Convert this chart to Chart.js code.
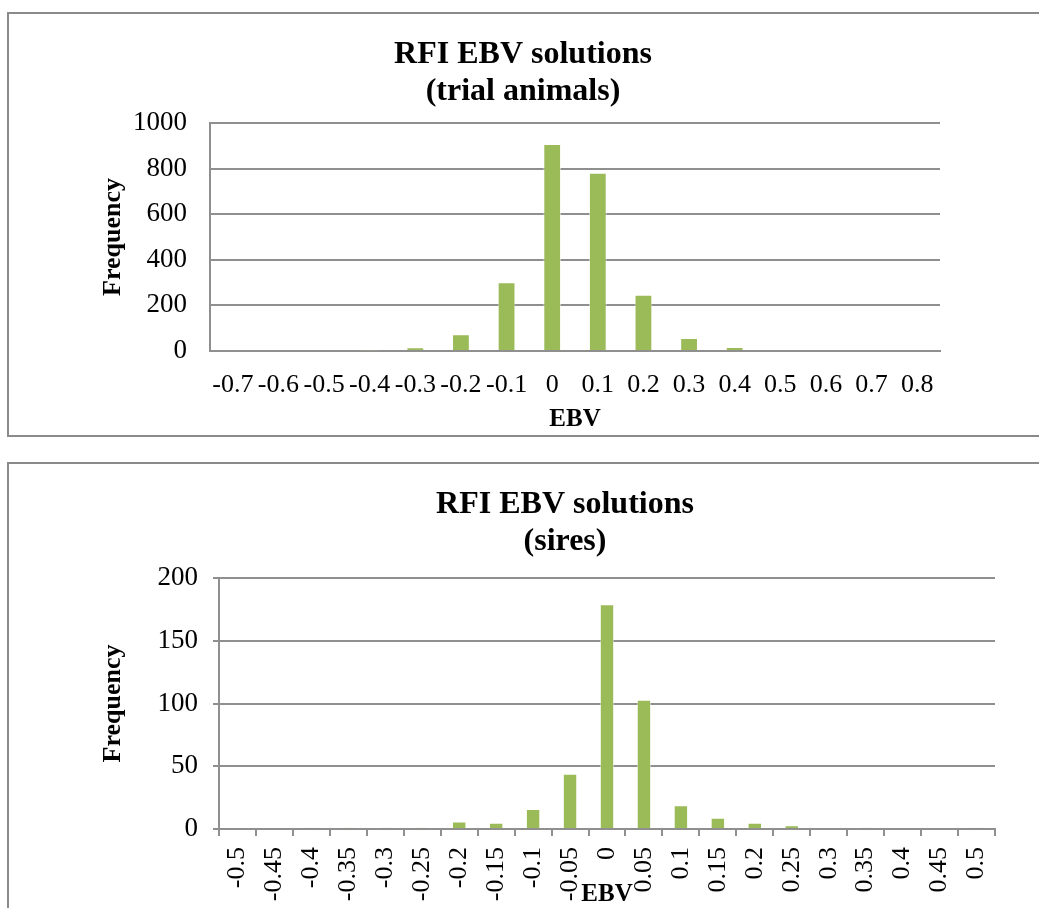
<!DOCTYPE html>
<html>
<head>
<meta charset="utf-8">
<script src="https://cdn.jsdelivr.net/npm/chart.js@4.4.0/dist/chart.umd.min.js"></script>
<style>
  html, body { margin: 0; padding: 0; background: #fff; overflow: hidden; }
  .frame { position: absolute; left: 7px; border: 2px solid #8a8a8a; background: #fff; overflow: hidden; }
  #trialFrame { top: 12px; width: 1100px; height: 421px; }
  #siresFrame { top: 462px; width: 1150px; height: 480px; }
  canvas { display: block; }
</style>
</head>
<body>
<div class="frame" id="trialFrame"><canvas id="trialChart" width="1032" height="421"></canvas></div>
<div class="frame" id="siresFrame"><canvas id="siresChart" width="1112" height="470"></canvas></div>
<script>
// chart data
const trialEbv = ['-0.7', '-0.6', '-0.5', '-0.4', '-0.3', '-0.2', '-0.1', '0', '0.1', '0.2', '0.3', '0.4', '0.5', '0.6', '0.7', '0.8'];
const trialFreq = [0, 0, 0, 2, 16, 73, 302, 908, 782, 247, 57, 18, 0, 0, 0, 0];
const trialTicks = [0, 200, 400, 600, 800, 1000];

const siresEbv = ['-0.5', '-0.45', '-0.4', '-0.35', '-0.3', '-0.25', '-0.2', '-0.15', '-0.1', '-0.05', '0',
  '0.05', '0.1', '0.15', '0.2', '0.25', '0.3', '0.35', '0.4', '0.45', '0.5'];
const siresFreq = [0, 0, 1, 1, 1, 1, 6, 5, 16, 44, 179, 103, 19, 9, 5, 3, 0, 1, 0, 0, 1];
const siresTicks = [0, 50, 100, 150, 200];

const SERIF = "'Liberation Serif', 'Times New Roman', serif";
const GRID = '#8f8f8f';
const BAR = '#9bbb59';

Chart.defaults.font.family = SERIF;
Chart.defaults.color = '#000';

function buildChart(canvasId, opts) {
  const ctx = document.getElementById(canvasId).getContext('2d');
  return new Chart(ctx, {
    type: 'bar',
    data: {
      labels: opts.labels,
      datasets: [{
        data: opts.values,
        backgroundColor: BAR,
        borderColor: 'rgba(255,255,255,0.55)',
        borderWidth: 1,
        barPercentage: 0.39,
        categoryPercentage: 1,
      }],
    },
    options: {
      responsive: false,
      animation: false,
      devicePixelRatio: 1,
      // left/right padding keeps the chart title centred where the original has it
      layout: { padding: { left: opts.leftPad, top: 0, right: opts.rightPad, bottom: 0 } },
      plugins: {
        legend: { display: false },
        tooltip: { enabled: false },
        title: {
          display: true,
          text: opts.title,
          color: '#000',
          font: { size: 32, weight: 'bold', lineHeight: 1.15 },
          padding: { top: 22.6, bottom: opts.titleGap },
        },
      },
      scales: {
        x: {
          afterFit: (scale) => { scale.height = opts.xHeight; },
          grid: {
            display: opts.xTicks,
            drawOnChartArea: false,
            drawTicks: opts.xTicks,
            tickLength: 7,
            color: GRID,
            lineWidth: 2,
            offset: true,
          },
          border: { display: true, color: GRID, width: 2 },
          ticks: {
            autoSkip: false,
            minRotation: opts.rotation,
            maxRotation: opts.rotation,
            padding: opts.xLabelPad,
            font: { size: opts.xFont },
            color: '#000',
          },
          title: {
            display: true,
            text: 'EBV',
            color: '#000',
            font: { size: 25, weight: 'bold', lineHeight: 1.2 },
            padding: { top: 0, bottom: opts.xTitlePad },
          },
        },
        y: {
          min: 0,
          max: opts.ticks[opts.ticks.length - 1],
          afterFit: (scale) => { scale.width = opts.yWidth; },
          afterBuildTicks: (scale) => { scale.ticks = opts.ticks.map(v => ({ value: v })); },
          grid: {
            color: GRID,
            lineWidth: 2,
            drawTicks: opts.yTickLen > 0,
            tickLength: opts.yTickLen,
          },
          border: { display: true, color: GRID, width: 2 },
          ticks: {
            padding: opts.yLabelPad,
            font: { size: 27 },
            color: '#000',
            callback: (value) => String(value),
          },
          title: {
            display: true,
            text: 'Frequency',
            color: '#000',
            font: { size: 26, weight: 'bold', lineHeight: 1.2 },
            padding: { top: opts.yTitlePad, bottom: 0 },
          },
        },
      },
    },
  });
}

buildChart('trialChart', {
  labels: trialEbv,
  values: trialFreq,
  ticks: trialTicks,
  title: ['RFI EBV solutions', '(trial animals)'],
  titleGap: 12.8,
  leftPad: 97,
  rightPad: 101,
  yWidth: 104,
  yTitlePad: -8.6,
  xHeight: 84,
  xTicks: false,
  rotation: 0,
  xLabelPad: 18.4,
  xFont: 26,
  xTitlePad: 0,
  yTickLen: 0,
  yLabelPad: 23,
});

buildChart('siresChart', {
  labels: siresEbv,
  values: siresFreq,
  ticks: siresTicks,
  title: ['RFI EBV solutions', '(sires)'],
  titleGap: 17.8,
  leftPad: 126,
  rightPad: 126,
  yWidth: 84,
  yTitlePad: -37.6,
  xHeight: 105,
  xTicks: true,
  rotation: 90,
  xLabelPad: 11,
  xFont: 26,
  xTitlePad: 24,
  yTickLen: 6,
  yLabelPad: 15,
});
</script>
</body>
</html>
